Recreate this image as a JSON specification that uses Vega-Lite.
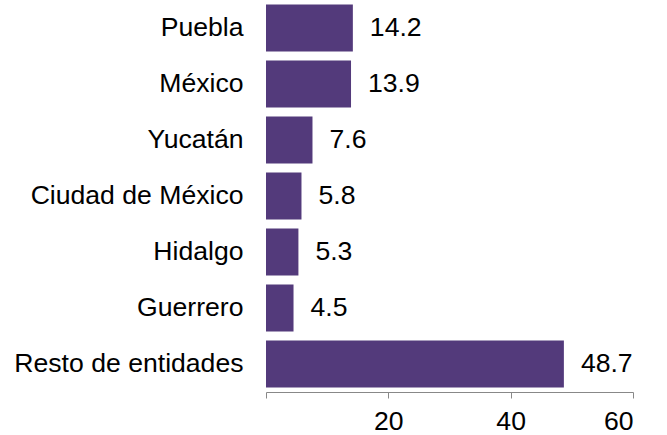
{
  "$schema": "https://vega.github.io/schema/vega-lite/v6.json",
  "autosize": "none",
  "width": 367,
  "height": 392,
  "padding": {"left": 266, "top": 0, "right": 34, "bottom": 43},
  "background": "white",
  "config": {"view": {"stroke": null}, "font": "Liberation Sans"},
  "data": {
    "values": [
      {"entidad": "Puebla", "valor": 14.2},
      {"entidad": "México", "valor": 13.9},
      {"entidad": "Yucatán", "valor": 7.6},
      {"entidad": "Ciudad de México", "valor": 5.8},
      {"entidad": "Hidalgo", "valor": 5.3},
      {"entidad": "Guerrero", "valor": 4.5},
      {"entidad": "Resto de entidades", "valor": 48.7}
    ]
  },
  "encoding": {
    "y": {
      "field": "entidad",
      "type": "nominal",
      "sort": null,
      "scale": {"paddingInner": 0.16, "paddingOuter": 0.08},
      "axis": {
        "title": null,
        "domain": false,
        "ticks": false,
        "labelFontSize": 26.6,
        "labelColor": "#000000",
        "labelPadding": 23,
        "labelFont": "Liberation Sans",
        "labelLimit": 300
      }
    },
    "x": {
      "field": "valor",
      "type": "quantitative",
      "scale": {"domain": [0, 60], "nice": false},
      "axis": {
        "title": null,
        "values": [0, 20, 40, 60],
        "labelExpr": "datum.value == 0 ? '' : datum.label",
        "grid": false,
        "domainColor": "#888888",
        "tickColor": "#888888",
        "tickSize": 6,
        "labelFontSize": 26.6,
        "labelColor": "#000000",
        "labelPadding": 10,
        "labelDx": 4,
        "labelFont": "Liberation Sans"
      }
    }
  },
  "layer": [
    {"mark": {"type": "bar", "color": "#533a7b"}},
    {
      "mark": {"type": "text", "align": "left", "baseline": "middle", "dx": 17, "fontSize": 26.6, "color": "#000000", "font": "Liberation Sans"},
      "encoding": {"text": {"field": "valor", "type": "quantitative", "format": ".1f"}}
    }
  ]
}
